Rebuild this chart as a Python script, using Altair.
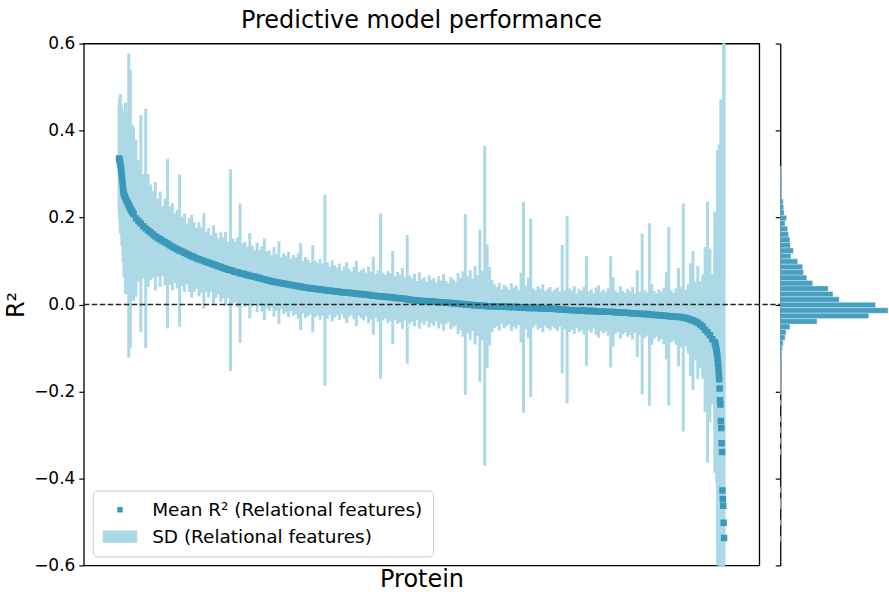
import altair as alt
import pandas as pd

# ---------------- data ----------------
# protein rank (sorted by mean R^2); dense where the curve is steep, sampled every 6th elsewhere
rank_head = list(range(0, 12)) + list(range(12, 37, 2))
rank_bulk = list(range(42, 1477, 6))
rank_tail = list(range(1477, 1500))

mean_head = [
    0.336, 0.333, 0.329, 0.324, 0.318, 0.311, 0.303, 0.294, 0.285, 0.276, 0.267, 0.259,
    0.254, 0.249, 0.244, 0.240, 0.236, 0.232, 0.228, 0.224, 0.220, 0.217, 0.214, 0.211, 0.208,
]
mean_bulk = [
    0.198, 0.192, 0.186,
    0.180, 0.175, 0.170, 0.166, 0.161, 0.157, 0.153, 0.150, 0.146, 0.143,
    0.140, 0.136, 0.133, 0.130, 0.127, 0.124, 0.122, 0.119, 0.116, 0.114,
    0.111, 0.109, 0.106, 0.104, 0.102, 0.100, 0.098, 0.096, 0.094, 0.092,
    0.090, 0.088, 0.086, 0.084, 0.082, 0.080, 0.079, 0.077, 0.075, 0.074,
    0.072, 0.071, 0.069, 0.068, 0.066, 0.065, 0.064, 0.062, 0.061, 0.059,
    0.058, 0.056, 0.055, 0.053, 0.052, 0.051, 0.050, 0.049, 0.048, 0.047,
    0.046, 0.045, 0.044, 0.043, 0.042, 0.041, 0.040, 0.039, 0.038, 0.037,
    0.037, 0.036, 0.035, 0.035, 0.034, 0.033, 0.032, 0.032, 0.031, 0.030,
    0.030, 0.029, 0.028, 0.028, 0.027, 0.027, 0.026, 0.026, 0.025, 0.024,
    0.024, 0.023, 0.023, 0.022, 0.021, 0.020, 0.020, 0.019, 0.019, 0.018,
    0.018, 0.017, 0.017, 0.016, 0.015, 0.015, 0.014, 0.014, 0.013, 0.012,
    0.011, 0.010, 0.010, 0.009, 0.009, 0.008, 0.008, 0.007, 0.007, 0.007,
    0.006, 0.006, 0.005, 0.005, 0.005, 0.004, 0.004, 0.003, 0.003, 0.002,
    0.002, 0.001, 0.001, 0.000, -0.0005, -0.001, -0.001, -0.002, -0.002, -0.003,
    -0.003, -0.003, -0.004, -0.004, -0.004, -0.004, -0.005, -0.005, -0.005, -0.005,
    -0.005, -0.006, -0.006, -0.006, -0.006, -0.007, -0.007, -0.007, -0.007, -0.008,
    -0.008, -0.008, -0.008, -0.008, -0.009, -0.009, -0.009, -0.009, -0.010, -0.010,
    -0.010, -0.011, -0.011, -0.011, -0.012, -0.012, -0.013, -0.013, -0.013, -0.014,
    -0.014, -0.014, -0.014, -0.015, -0.015, -0.015, -0.015, -0.016, -0.016, -0.016,
    -0.016, -0.017, -0.017, -0.017, -0.017, -0.018, -0.018, -0.018, -0.019, -0.019,
    -0.019, -0.020, -0.020, -0.020, -0.021, -0.021, -0.022, -0.022, -0.022, -0.023,
    -0.023, -0.024, -0.024, -0.025, -0.025, -0.026, -0.026, -0.027, -0.027, -0.028,
    -0.028, -0.029, -0.029, -0.030, -0.031, -0.033, -0.035, -0.037, -0.039, -0.042,
    -0.046, -0.051, -0.058, -0.064, -0.071, -0.080, -0.087,
]
mean_tail = [
    -0.090, -0.094, -0.099, -0.104, -0.110, -0.117, -0.125, -0.135, -0.147, -0.160,
    -0.172, -0.193, -0.220, -0.230, -0.268, -0.284, -0.319, -0.339, -0.428, -0.447,
    -0.463, -0.502, -0.537,
]

sd_head = [
    0.12, 0.14, 0.11, 0.16, 0.13, 0.15, 0.12, 0.16, 0.14, 0.13, 0.17, 0.15,
    0.19, 0.15, 0.22, 0.20, 0.16, 0.21, 0.35, 0.18, 0.32, 0.17, 0.20, 0.15, 0.20,
]
sd_bulk = [
    0.18, 0.14, 0.25,
    0.12, 0.275, 0.13, 0.11, 0.10, 0.125, 0.09, 0.11, 0.08, 0.10,
    0.195, 0.09, 0.10, 0.08, 0.09, 0.175, 0.08, 0.09, 0.07, 0.085,
    0.095, 0.08, 0.07, 0.085, 0.075, 0.11, 0.07, 0.08, 0.065, 0.09,
    0.075, 0.065, 0.08, 0.07, 0.085, 0.065, 0.232, 0.075, 0.07, 0.08,
    0.16, 0.07, 0.075, 0.065, 0.098, 0.07, 0.06, 0.08, 0.065, 0.075,
    0.094, 0.065, 0.07, 0.06, 0.08, 0.065, 0.095, 0.06, 0.07, 0.065,
    0.075, 0.06, 0.07, 0.065, 0.075, 0.10, 0.06, 0.07, 0.065, 0.06,
    0.10, 0.065, 0.06, 0.07, 0.06, 0.22, 0.065, 0.055, 0.07, 0.06,
    0.055, 0.065, 0.05, 0.06, 0.07, 0.055, 0.05, 0.06, 0.075, 0.05,
    0.055, 0.06, 0.05, 0.065, 0.055, 0.09, 0.05, 0.06, 0.19, 0.055,
    0.05, 0.06, 0.055, 0.107, 0.05, 0.06, 0.055, 0.07, 0.05, 0.148,
    0.055, 0.05, 0.06, 0.045, 0.065, 0.05, 0.055, 0.045, 0.06, 0.05,
    0.055, 0.045, 0.06, 0.05, 0.065, 0.05, 0.045, 0.06, 0.055, 0.05,
    0.07, 0.06, 0.075, 0.208, 0.065, 0.08, 0.06, 0.09, 0.07, 0.175,
    0.08, 0.368, 0.142, 0.09, 0.06, 0.05, 0.045, 0.055, 0.04, 0.05,
    0.045, 0.04, 0.055, 0.045, 0.05, 0.04, 0.08, 0.242, 0.05, 0.07,
    0.205, 0.045, 0.04, 0.05, 0.045, 0.055, 0.04, 0.045, 0.05, 0.04,
    0.045, 0.05, 0.04, 0.148, 0.045, 0.215, 0.05, 0.045, 0.055, 0.04,
    0.05, 0.045, 0.055, 0.126, 0.045, 0.05, 0.04, 0.055, 0.06, 0.045,
    0.05, 0.045, 0.055, 0.128, 0.08, 0.05, 0.045, 0.06, 0.05, 0.045,
    0.055, 0.05, 0.06, 0.045, 0.10, 0.05, 0.185, 0.055, 0.05, 0.21,
    0.07, 0.055, 0.05, 0.06, 0.055, 0.065, 0.10, 0.205, 0.06, 0.055,
    0.065, 0.113, 0.07, 0.262, 0.065, 0.08, 0.13, 0.16, 0.09, 0.13,
    0.10, 0.12, 0.19, 0.30, 0.20, 0.15, 0.30,
]
sd_tail = [
    0.20, 0.15, 0.28, 0.22, 0.30, 0.25, 0.48, 0.30, 0.40, 0.35,
    0.54, 0.30, 0.45, 0.38, 0.74, 0.35, 0.30, 0.28, 0.25, 0.30,
    0.20, 1.30, 1.40,
]

# histogram of mean R^2 (bin lower edge, count), bin width 0.0125
hist_lo = [
    0.305, 0.2925, 0.28, 0.2675, 0.255, 0.2425, 0.23, 0.2175, 0.205, 0.1925,
    0.18, 0.1675, 0.155, 0.1425, 0.13, 0.1175, 0.105, 0.0925, 0.08, 0.0675,
    0.055, 0.0425, 0.03, 0.0175, 0.005, -0.0075, -0.02, -0.0325, -0.045, -0.0575,
    -0.07, -0.0825, -0.095, -0.1075, -0.12, -0.1325, -0.145, -0.1575, -0.17, -0.1825,
    -0.195, -0.2075, -0.2325, -0.27, -0.295, -0.32, -0.345, -0.4325, -0.4575, -0.47,
    -0.5075, -0.545,
]
hist_count = [
    2, 2, 1, 3, 3, 3, 6, 7, 8, 13,
    10, 15, 17, 20, 21, 27, 22, 36, 46, 48,
    55, 67, 99, 109, 122, 197, 223, 183, 76, 20,
    12, 10, 6, 4, 3, 2, 1, 1, 1, 1,
    2, 1, 2, 1, 1, 1, 1, 1, 1, 1,
    1, 1,
]
BIN_W = 0.0125

y_ticks = [-0.6, -0.4, -0.2, 0.0, 0.2, 0.4, 0.6]
series_names = ["Mean R\u00b2 (Relational features)", "SD (Relational features)"]

# ---------------- styling ----------------
FONT = "DejaVu Sans"
TEAL = "#3a98b9"
LIGHT = "#add8e6"
HIST = "#47a0c0"
W, H = 677, 523
HIST_W = 108
GAP = 21
N_TOTAL = 1500

df = pd.DataFrame({
    "rank": rank_head + rank_bulk + rank_tail,
    "mean": mean_head + mean_bulk + mean_tail,
    "sd": sd_head + sd_bulk + sd_tail,
})
hist_df = pd.DataFrame({"lo": hist_lo, "count": hist_count})

xscale = alt.Scale(domain=[-0.05 * (N_TOTAL - 1), 1.05 * (N_TOTAL - 1)], nice=False, zero=False)
yscale = alt.Scale(domain=[-0.6, 0.6], nice=False, zero=False)
color_scale = alt.Scale(domain=series_names, range=[TEAL, LIGHT])
shape_scale = alt.Scale(domain=series_names, range=["square", "M-6.3,-2.3H6.3V2.3H-6.3Z"])

legend = alt.Legend(
    title=None, orient="bottom-left", offset=9, padding=10,
    fillColor="white", strokeColor="#cccccc", cornerRadius=4,
    labelFont=FONT, labelFontSize=18.5, labelColor="black", labelLimit=500,
    symbolSize=30, symbolStrokeWidth=0, symbolOffset=8, labelOffset=23,
    rowPadding=8,
)

yaxis = alt.Axis(
    values=y_ticks, format=".1f", title="R\u00b2", titleFont=FONT, titleFontSize=24,
    titleFontWeight="normal", titleColor="black", labelFont=FONT, labelFontSize=17,
    labelColor="black", tickSize=5, tickColor="black", tickWidth=1.2, domain=False,
    grid=False, labelFlush=False, labelOverlap=False, labelPadding=4, titlePadding=5,
)
xaxis = alt.Axis(
    title="Protein", titleFont=FONT, titleFontSize=24, titleFontWeight="normal",
    titleColor="black", labels=False, ticks=False, domain=False, grid=False, titlePadding=2,
)

base = alt.Chart(df)

sd_bars = base.transform_calculate(
    lo="datum.mean - datum.sd", hi="datum.mean + datum.sd",
    series="'SD (Relational features)'",
).mark_bar(size=3, clip=True, opacity=1).encode(
    x=alt.X("rank:Q", scale=xscale, axis=xaxis),
    y=alt.Y("lo:Q", scale=yscale, axis=yaxis),
    y2="hi:Q",
    color=alt.Color("series:N", scale=color_scale, legend=legend),
)

points = base.transform_calculate(
    series="'Mean R\u00b2 (Relational features)'",
).mark_point(filled=True, size=42, opacity=1, clip=True).encode(
    x=alt.X("rank:Q", scale=xscale),
    y=alt.Y("mean:Q", scale=yscale),
    color=alt.Color("series:N", scale=color_scale, legend=legend),
    shape=alt.Shape("series:N", scale=shape_scale, legend=legend),
)

zero_line = alt.Chart(pd.DataFrame({"y": [0.0]})).mark_rule(
    strokeDash=[5.5, 2.5], color="#262626", strokeWidth=1.4, clip=False,
).encode(
    y=alt.Y("y:Q", scale=yscale),
    x=alt.value(0),
    x2=alt.value(W + GAP),
)

main = alt.layer(sd_bars, points, zero_line).properties(
    width=W, height=H,
    title=alt.Title("Predictive model performance", font=FONT, fontSize=24,
                    fontWeight="normal", color="black", anchor="middle", offset=2),
    view=alt.ViewBackground(stroke="black", strokeWidth=1.3, strokeOpacity=1),
)

hist = alt.Chart(hist_df).transform_calculate(
    hi=f"datum.lo + {BIN_W}"
).mark_rect(color=HIST, stroke="white", strokeWidth=0.3).encode(
    y=alt.Y("lo:Q", scale=yscale, axis=alt.Axis(
        values=y_ticks, labels=False, title=None, tickSize=5, tickColor="black",
        tickWidth=1.2, domain=True, domainColor="black", domainWidth=1.3, grid=False)),
    y2="hi:Q",
    x=alt.X("count:Q", scale=alt.Scale(domain=[0, 223], nice=False, zero=True), axis=None),
    x2=alt.value(0),
).properties(width=HIST_W, height=H, view=alt.ViewBackground(strokeOpacity=0))

chart = alt.hconcat(main, hist, spacing=GAP, bounds="flush").properties(
    padding={"left": 4, "top": 7, "right": 0, "bottom": 0}
).configure(font=FONT).configure_view(strokeOpacity=0)

chart.save("out.html", embed_options={"renderer": "svg", "actions": False})
